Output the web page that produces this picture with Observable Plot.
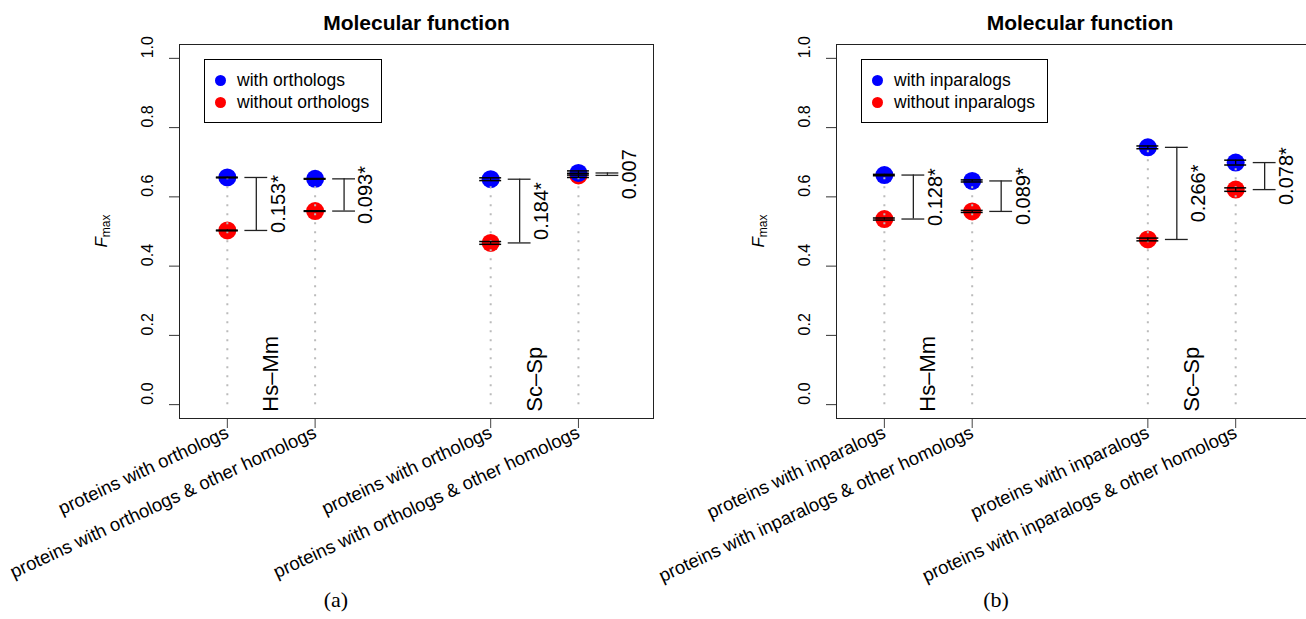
<!DOCTYPE html>
<html><head><meta charset="utf-8">
<script src="https://cdn.jsdelivr.net/npm/d3@7"></script>
<script src="https://cdn.jsdelivr.net/npm/@observablehq/plot@0.6"></script>
<style>
html,body{margin:0;padding:0;background:#fff;overflow:hidden;}
body{width:1306px;height:619px;font-family:"Liberation Sans",Arial,sans-serif;color:#000;}
#row{display:flex;width:1400px;}
.panel{position:relative;width:660px;height:619px;flex:none;}
.panel svg{display:block;max-width:none !important;}
.legend{position:absolute;top:59px;border:1px solid #000;background:#fff;padding:9px 12px 9px 10px;}
.legend .item{display:flex;align-items:center;height:22px;font-size:17.5px;white-space:nowrap;}
.legend .dot{width:11px;height:11px;border-radius:50%;margin-right:11px;flex:none;}
.fmax{position:absolute;top:231px;transform:translate(-50%,-50%) rotate(-90deg);font-size:17px;white-space:nowrap;}
.fmax i{font-style:italic;}
.fmax sub{font-size:12px;vertical-align:-3px;}
.caption{position:absolute;top:580px;left:0;width:660px;height:39px;line-height:39px;text-align:center;padding-left:12px;box-sizing:border-box;font-family:"Liberation Serif","DejaVu Serif",serif;font-size:22px;}
</style></head>
<body>
<div id="row"></div>
<script>
// ---- shared ----
const xPos = [1, 2, 4, 5];
const pairs = ["Hs–Mm", "Sc–Sp"];
const pairCenters = [1.5, 4.5];
const yTicks = [0, 0.2, 0.4, 0.6, 0.8, 1.0];
const title = "Molecular function";
const seriesColors = ["#0000ff", "#ff0000"];

// ---- panel (a) ----
const labelsA = ["proteins with orthologs", "proteins with orthologs & other homologs", "proteins with orthologs", "proteins with orthologs & other homologs"];
const withA = [0.656, 0.652, 0.651, 0.669];
const withErrA = [0.001, 0.001, 0.004, 0.006];
const withoutA = [0.503, 0.559, 0.467, 0.662];
const withoutErrA = [0.001, 0.001, 0.004, 0.006];
const diffA = ["0.153*", "0.093*", "0.184*", "0.007"];
const legendA = ["with orthologs", "without orthologs"];

// ---- panel (b) ----
const labelsB = ["proteins with inparalogs", "proteins with inparalogs & other homologs", "proteins with inparalogs", "proteins with inparalogs & other homologs"];
const withB = [0.663, 0.646, 0.743, 0.699];
const withErrB = [0.002, 0.003, 0.004, 0.007];
const withoutB = [0.536, 0.558, 0.477, 0.621];
const withoutErrB = [0.003, 0.003, 0.004, 0.005];
const diffB = ["0.128*", "0.089*", "0.266*", "0.078*"];
const legendB = ["with inparalogs", "without inparalogs"];

function panel(opts) {
  const {labels, withV, withE, withoutV, withoutE, diffs, legend, caption, marginLeft, marginRight, width, xDomain} = opts;
  const rows = xPos.map((x, i) => ({x, w: withV[i], wo: withoutV[i], d: diffs[i]}));
  const pts = [
    ...xPos.map((x, i) => ({x, v: withoutV[i], e: withoutE[i], c: seriesColors[1]})),
    ...xPos.map((x, i) => ({x, v: withV[i], e: withE[i], c: seriesColors[0]}))
  ];
  const labelMap = new Map(xPos.map((x, i) => [x, labels[i]]));
  const fig = Plot.plot({
    width, height: 580,
    marginLeft, marginRight, marginTop: 44, marginBottom: 162,
    style: {fontFamily: "'Liberation Sans', Arial, sans-serif", color: "#000", background: "transparent", overflow: "visible"},
    x: {domain: xDomain},
    y: {domain: [-0.04, 1.04]},
    marks: [
      Plot.axisY({ticks: yTicks, tickSize: 10, tickFormat: () => "", label: null, stroke: "#333"}),
      Plot.text(yTicks, {y: d => d, text: d => d.toFixed(1), frameAnchor: "left", dx: -32, rotate: -90, fontSize: 16}),
      Plot.axisX({ticks: xPos, tickFormat: x => labelMap.get(x), label: null, tickSize: 10, tickRotate: -25, textAnchor: "end", lineAnchor: "middle", tickPadding: 3, fontSize: 18.5, stroke: "#444"}),
      Plot.dot(pts, {x: "x", y: "v", r: 9, fill: "c", stroke: null}),
      Plot.ruleX(rows, {x: "x", y1: 0, y2: d => Math.max(d.w, d.wo), stroke: "#bbb", strokeWidth: 2, strokeDasharray: "2 7"}),
      Plot.ruleX(pts, {x: "x", y1: d => d.v - d.e, y2: d => d.v + d.e, stroke: "#000", strokeWidth: 1.3}),
      Plot.ruleY(pts, {y: d => d.v - d.e, x1: d => d.x - 0.125, x2: d => d.x + 0.125, stroke: "#000", strokeWidth: 1.5}),
      Plot.ruleY(pts, {y: d => d.v + d.e, x1: d => d.x - 0.125, x2: d => d.x + 0.125, stroke: "#000", strokeWidth: 1.5}),
      Plot.ruleX(rows, {x: d => d.x + 0.33, y1: "wo", y2: "w", stroke: "#222", strokeWidth: 1.3}),
      Plot.ruleY(rows, {y: "w", x1: d => d.x + 0.2, x2: d => d.x + 0.46, stroke: "#222", strokeWidth: 1.3}),
      Plot.ruleY(rows, {y: "wo", x1: d => d.x + 0.2, x2: d => d.x + 0.46, stroke: "#222", strokeWidth: 1.3}),
      Plot.text(rows, {x: d => d.x + 0.58, y: d => (d.w + d.wo) / 2, text: "d", rotate: -90, fontSize: 20}),
      Plot.text(pairs, {x: (d, i) => pairCenters[i], y: 0, dy: 7, text: d => d, rotate: -90, textAnchor: "start", fontSize: 22}),
      Plot.text([title], {frameAnchor: "top", dy: -15, lineAnchor: "bottom", text: d => d, fontWeight: "bold", fontSize: 21}),
      Plot.frame({stroke: "#222"})
    ]
  });
  const div = document.createElement("div");
  div.className = "panel";
  div.style.width = width + "px";
  div.appendChild(fig);
  const lg = document.createElement("div");
  lg.className = "legend";
  lg.style.left = (marginLeft + 25) + "px";
  legend.forEach((t, i) => {
    const it = document.createElement("div");
    it.className = "item";
    const dot = document.createElement("span");
    dot.className = "dot";
    dot.style.background = seriesColors[i];
    it.appendChild(dot);
    it.appendChild(document.createTextNode(t));
    lg.appendChild(it);
  });
  div.appendChild(lg);
  const fm = document.createElement("div");
  fm.className = "fmax";
  fm.style.left = (marginLeft - 77) + "px";
  fm.innerHTML = "<i>F</i><sub>max</sub>";
  div.appendChild(fm);
  const cap = document.createElement("div");
  cap.className = "caption";
  cap.textContent = caption;
  div.appendChild(cap);
  return div;
}

const row = document.getElementById("row");
row.appendChild(panel({labels: labelsA, withV: withA, withE: withErrA, withoutV: withoutA, withoutE: withoutErrA, diffs: diffA, legend: legendA, caption: "(a)", marginLeft: 179, marginRight: 7, width: 660, xDomain: [0.455, 5.855]}));
row.appendChild(panel({labels: labelsB, withV: withB, withE: withErrB, withoutV: withoutB, withoutE: withoutErrB, diffs: diffB, legend: legendB, caption: "(b)", marginLeft: 176, marginRight: 37, width: 700, xDomain: [0.455, 6.0]}));
</script>
</body></html>
